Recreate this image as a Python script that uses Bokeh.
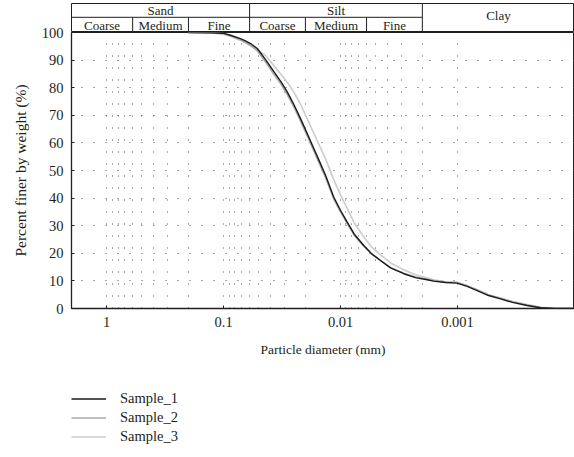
from bokeh.plotting import figure
from bokeh.models import (Range1d, FixedTicker, Legend, LegendItem,
                          ColumnDataSource, CustomJSTickFormatter)
from bokeh.layouts import column
from bokeh.embed import file_html
from bokeh.resources import INLINE
from bokeh.core.properties import value

FONT = "Liberation Serif"
INK = "#231f20"

# ---------------- data ----------------
diameter_mm = [0.2, 0.129, 0.0999, 0.0874, 0.0718, 0.0651, 0.0589, 0.0516,
               0.0438, 0.0372, 0.0324, 0.0286, 0.0251, 0.0220, 0.0193,
               0.01695, 0.01515, 0.01346, 0.01143, 0.01, 0.00878, 0.0076,
               0.00634, 0.00545, 0.00456, 0.00374, 0.00288, 0.00229, 0.00182,
               0.0016, 0.00127, 0.00101, 0.000827, 0.000679, 0.000543,
               0.000429, 0.000339, 0.000254, 0.000195, 0.000151, 0.0001]
sample_1 = [100, 99.9, 99.7, 99.0, 97.8, 97.0, 96.0, 94.2, 90.2, 85.8,
            82.2, 78.5, 73.9, 68.8, 63.4, 58.0, 53.3, 48.3, 40.3, 35.5,
            31.3, 26.8, 22.8, 19.9, 17.4, 14.7, 12.6, 11.2, 10.4, 9.9,
            9.4, 9.2, 8.0, 6.5, 4.7, 3.5, 2.2, 1.1, 0.25, 0.0, 0.0]
sample_2 = [100, 99.9, 99.6, 98.7, 97.3, 96.4, 95.3, 93.4, 89.3, 84.9,
            81.3, 77.6, 73.0, 67.9, 62.5, 57.1, 52.4, 47.5, 39.6, 34.9,
            30.8, 26.4, 22.6, 19.8, 17.4, 14.8, 12.8, 11.4, 10.6, 10.1,
            9.6, 9.4, 8.2, 6.7, 4.9, 3.7, 2.4, 1.3, 0.35, 0.05, 0.0]
sample_3 = [100, 99.8, 99.4, 98.6, 97.2, 96.3, 95.2, 93.8, 91.7, 88.0,
            84.9, 82.0, 78.4, 74.0, 68.7, 63.5, 59.0, 54.3, 46.6, 41.1,
            36.3, 30.8, 26.0, 22.3, 19.4, 16.5, 14.0, 12.2, 11.0, 10.4,
            9.7, 9.5, 8.3, 6.8, 5.0, 3.8, 2.5, 1.4, 0.4, 0.1, 0.0]
series_names = ["Sample_1", "Sample_2", "Sample_3"]
series_values = [sample_1, sample_2, sample_3]
series_colors = ["#1a1a1a", "#aaaaaa", "#cccccc"]

y_ticks = [0, 10, 20, 30, 40, 50, 60, 70, 80, 90, 100]
x_ticks = [1, 0.1, 0.01, 0.001]
grid_y = [10, 20, 30, 40, 50, 60, 70, 80, 90]
grid_x = [1, 0.9, 0.8, 0.7, 0.6, 0.5, 0.4, 0.3, 0.2,
          0.1, 0.09, 0.08, 0.07, 0.06, 0.05, 0.04, 0.03, 0.02,
          0.01, 0.009, 0.008, 0.007, 0.006, 0.005, 0.004, 0.003, 0.002,
          0.001]

groups = ["Sand", "Silt", "Clay"]
group_edges = [2, 0.06, 0.002, 0.0001]
subgroups = ["Coarse", "Medium", "Fine", "Coarse", "Medium", "Fine"]
sub_edges = [2, 0.6, 0.2, 0.06, 0.02, 0.006, 0.002]

X_MAX, X_MIN = 2, 0.0001
LEFT = 71
FRAME_W = 503
OVERLAP = 14

xr = Range1d(X_MAX, X_MIN)
sources = {n: ColumnDataSource(dict(d=diameter_mm, pct=v))
           for n, v in zip(series_names, series_values)}
widths = {"Sample_1": 1.4, "Sample_2": 1.6, "Sample_3": 1.6}

# ---------------- header (classification table) ----------------
hdr = figure(frame_width=FRAME_W, frame_height=29, x_axis_type="log",
             x_range=xr, y_range=Range1d(0, 29), output_backend="svg",
             toolbar_location=None, x_axis_location=None,
             y_axis_location=None, min_border_left=LEFT,
             min_border_right=0, min_border_top=3, min_border_bottom=0)
hdr.grid.visible = False
hdr.outline_line_color = INK
hdr.outline_line_width = 1
hdr.background_fill_color = None
hdr.border_fill_color = None

MID = 15.2
hdr.segment(x0=[group_edges[0]], x1=[group_edges[2]], y0=[MID], y1=[MID],
            line_color=INK, line_width=1)
hdr.segment(x0=group_edges[1:3], x1=group_edges[1:3], y0=[0, 0], y1=[29, 29],
            line_color=INK, line_width=1)
inner = [e for e in sub_edges[1:-1] if e not in group_edges]
hdr.segment(x0=inner, x1=inner, y0=[0] * len(inner), y1=[MID] * len(inner),
            line_color=INK, line_width=1)

HFS = "13px"
gx = [(group_edges[i] * group_edges[i + 1]) ** 0.5 for i in range(3)]
hdr.text(x=gx[:2], y=[22.0, 22.0], text=groups[:2], text_align="center",
         text_baseline="middle", text_font=value(FONT),
         text_font_size=HFS, text_color=INK)
hdr.text(x=gx[2:], y=[17.5], text=groups[2:], text_align="center",
         text_baseline="middle", text_font=value(FONT),
         text_font_size=HFS, text_color=INK)
sx = [(sub_edges[i] * sub_edges[i + 1]) ** 0.5 for i in range(6)]
hdr.text(x=sx, y=[7.0] * 6, text=subgroups, text_align="center",
         text_baseline="middle", text_font=value(FONT),
         text_font_size=HFS, text_color=INK)

# ---------------- main chart ----------------
p = figure(frame_width=FRAME_W, frame_height=276, x_axis_type="log",
           x_range=xr, y_range=Range1d(0, 100), output_backend="svg",
           toolbar_location=None, min_border_left=LEFT, min_border_right=0,
           min_border_top=OVERLAP, min_border_bottom=70,
           styles={"margin-top": f"-{OVERLAP}px"})
p.background_fill_color = None
p.border_fill_color = None
p.outline_line_color = INK
p.outline_line_width = 1

p.xgrid.ticker = FixedTicker(ticks=grid_x)
p.ygrid.ticker = FixedTicker(ticks=grid_y)
for g in (p.xgrid, p.ygrid):
    g.grid_line_color = "#555555"
    g.grid_line_width = 1
    g.grid_line_dash = "1 11"

for name, col in zip(series_names[::-1], series_colors[::-1]):
    p.line("d", "pct", source=sources[name], line_color=col,
           line_width=widths[name])

p.xaxis.ticker = FixedTicker(ticks=x_ticks)
p.xaxis.formatter = CustomJSTickFormatter(code="return String(+tick.toPrecision(6))")
p.yaxis.ticker = FixedTicker(ticks=y_ticks)
for ax in (p.xaxis, p.yaxis):
    ax.axis_line_color = INK
    ax.axis_line_width = 1.3
    ax.major_tick_in = 3
    ax.major_tick_out = 0
    ax.major_tick_line_color = INK
    ax.minor_tick_line_color = None
    ax.major_label_text_font = FONT
    ax.major_label_text_font_size = "14.5px"
    ax.major_label_text_color = INK
    ax.axis_label_text_font = FONT
    ax.axis_label_text_font_style = "normal"
    ax.axis_label_text_color = INK
p.xaxis.axis_label = "Particle diameter (mm)"
p.yaxis.axis_label = "Percent finer by weight (%)"
p.xaxis.axis_label_text_font_size = "13.5px"
p.yaxis.axis_label_text_font_size = "15.5px"
p.xaxis.major_label_standoff = 8
p.xaxis.axis_label_standoff = 12
p.yaxis.major_label_standoff = 8
p.yaxis.axis_label_standoff = 10

# ---------------- legend strip (same series, shown only as a key) -------
lg = figure(frame_width=FRAME_W, frame_height=60, x_range=Range1d(10, 20),
            y_range=Range1d(1000, 2000), output_backend="svg",
            toolbar_location=None, x_axis_location=None,
            y_axis_location=None, min_border_left=LEFT, min_border_right=0,
            min_border_top=11, min_border_bottom=0)
lg.grid.visible = False
lg.outline_line_color = None
lg.background_fill_color = None
lg.border_fill_color = None
items = []
for name, col in zip(series_names, series_colors):
    r = lg.line("d", "pct", source=sources[name], line_color=col,
                line_width=widths[name])
    items.append(LegendItem(label=name, renderers=[r]))
leg = Legend(items=items, location="top_left", orientation="vertical",
             margin=0, padding=0, spacing=0, glyph_width=35,
             glyph_height=19, label_height=19, label_standoff=14,
             border_line_alpha=0, background_fill_alpha=0,
             label_text_font=FONT, label_text_font_size="14.5px",
             label_text_color=INK)
lg.add_layout(leg, "center")

layout = column(hdr, p, lg, spacing=0)

open("out.html", "w").write(file_html(layout, INLINE))
